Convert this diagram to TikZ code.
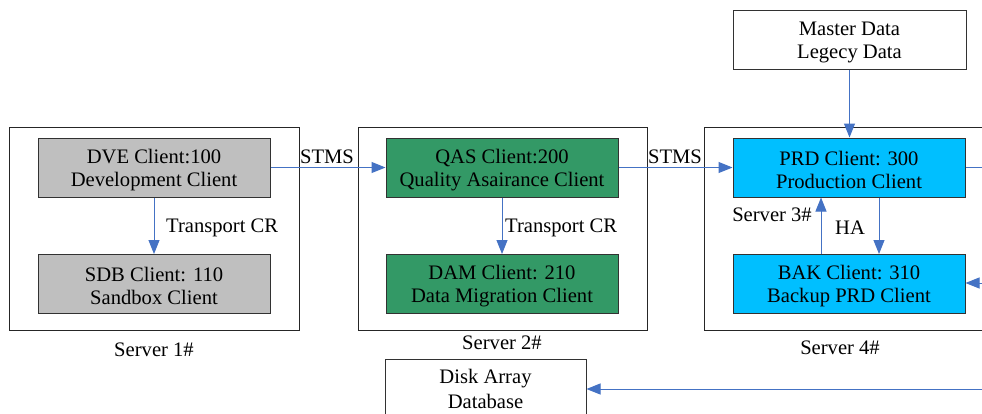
\documentclass[tikz,border=0pt]{standalone}
\usepackage{fontspec}
\setmainfont{Liberation Serif}
\usetikzlibrary{arrows.meta}
\definecolor{boxgray}{RGB}{191,191,191}
\definecolor{boxgreen}{RGB}{51,153,102}
\definecolor{boxcyan}{RGB}{0,191,255}
\definecolor{arrowblue}{RGB}{68,114,196}
\definecolor{edgegray}{RGB}{50,50,50}
\newcommand\fs{\rule{0pt}{18.5pt}}
\tikzset{
  txt/.style={font=\fontsize{20.6}{23}\selectfont, inner sep=0pt},
  client/.style={txt, draw=edgegray, line width=1pt, align=center, minimum width=232pt, minimum height=59pt},
  plainbox/.style={client, fill=white},
  server/.style={draw=black!85, line width=1pt, minimum width=290pt, minimum height=203pt, inner sep=0pt},
  conn/.style={draw=arrowblue, line width=1pt, -{Triangle[width=11pt,length=14pt]}},
  line/.style={draw=arrowblue, line width=1pt},
}
\begin{document}
\begin{tikzpicture}[x=1pt,y=-1pt]
\clip (0,0) rectangle (982,413);
\fill[white] (0,0) rectangle (982,413);
% servers
\node[server] (s1) at (154,228.5) {};
\node[server, minimum width=289pt] (s2) at (502.5,228.5) {};
\node[server] (s4) at (849,228.5) {};
% clients
\node[client, fill=boxgray] (dve) at (154,167.5) {\fs DVE Client:100\\Development Client};
\node[client, fill=boxgray] (sdb) at (154,284) {\fs SDB Client: 110\\Sandbox Client};
\node[client, fill=boxgreen] (qas) at (502,167.5) {\fs QAS Client:200\\Quality Asairance Client};
\node[client, fill=boxgreen] (dam) at (502,284) {\fs DAM Client: 210\\Data Migration Client};
\node[client, fill=boxcyan] (prd) at (849,167.5) {\fs PRD Client: 300\\Production Client};
\node[client, fill=boxcyan] (bak) at (849,284) {\fs BAK Client: 310\\Backup PRD Client};
\node[plainbox, minimum width=233pt] (master) at (849.5,39.5) {\fs Master Data\\Legecy Data};
\node[plainbox, minimum width=201pt, font=\fontsize{20.6}{25}\selectfont] (disk) at (485.5,388.5) {Disk Array\\Database};
% free ends off the right edge
\coordinate (outa) at (995,167.5);
\coordinate (outb) at (995,283);
\coordinate (outc) at (995,389);
% connectors
\draw[conn] (dve.east) -- (qas.west);
\draw[conn] (qas.east) -- (prd.west);
\draw[conn] (dve.south) -- (sdb.north);
\draw[conn] (qas.south) -- (dam.north);
\draw[conn] (master.south) -- (master.south |- prd.north);
\draw[conn] ([xshift=-28pt]bak.north) -- ([xshift=-28pt]prd.south);
\draw[conn] ([xshift=30pt]prd.south) -- ([xshift=30pt]bak.north);
\draw[line] (prd.east) -- (outa);
\draw[conn] (outb) -- (outb -| bak.east);
\draw[conn] (outc) -- (outc -| disk.east);
% labels
\node[txt] (stms1) at (327,157) {STMS};
\node[txt] (stms2) at (675,157) {STMS};
\node[txt, anchor=west] (tcr1) at (166,228) {Transport CR};
\node[txt, anchor=west] (tcr2) at (505,228) {Transport CR};
\node[txt] (ha) at (850,228) {HA};
\node[txt] (s3lab) at (772,215) {Server 3\#};
\node[txt] (s1lab) at (154,350) {Server 1\#};
\node[txt] (s2lab) at (502,343) {Server 2\#};
\node[txt] (s4lab) at (840,348) {Server 4\#};
\end{tikzpicture}
\end{document}
